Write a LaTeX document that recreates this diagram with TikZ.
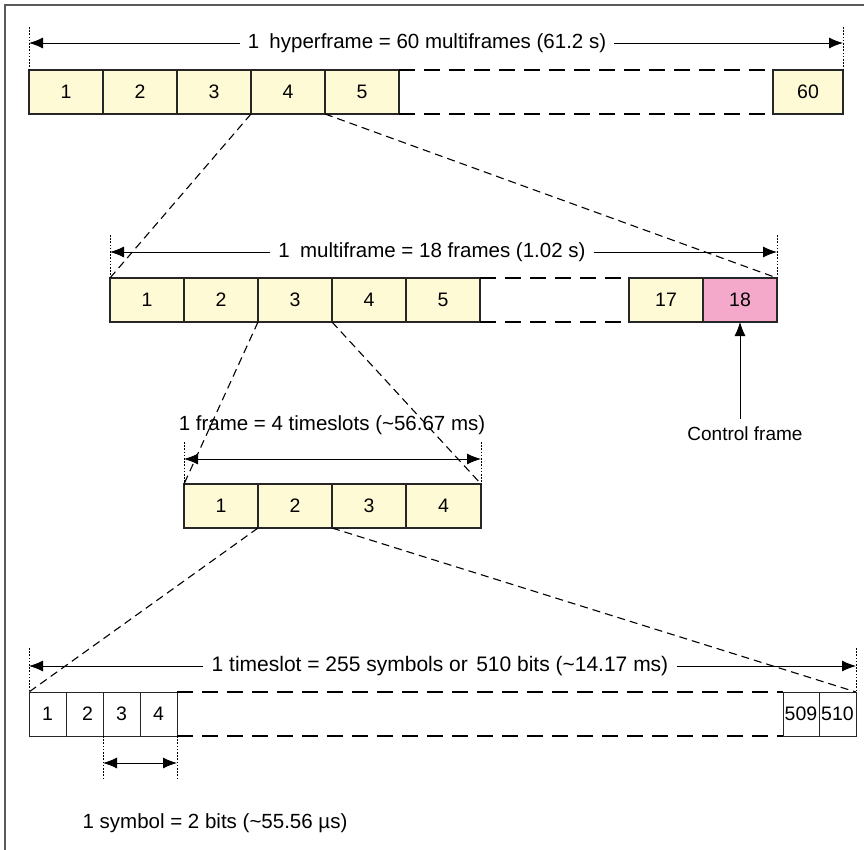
\documentclass[tikz,border=0pt]{standalone}
\usepackage{fontspec}
\setmainfont{Liberation Sans}
\usetikzlibrary{arrows.meta}
\definecolor{cream}{RGB}{255,250,214}
\definecolor{rosy}{RGB}{244,168,202}
\definecolor{framegray}{RGB}{90,90,90}
\tikzset{
  slot/.style={draw=black!85, line width=1.1pt, fill=cream, minimum height=44pt,
    minimum width=74pt, inner sep=0pt, outer sep=0pt, anchor=north west,
    font=\fontsize{19.5}{19.5}\selectfont},
  bit/.style={draw=black!85, line width=1pt, fill=white, minimum height=44pt,
    minimum width=37pt, inner sep=0pt, outer sep=0pt, anchor=north west,
    font=\fontsize{19.5}{19.5}\selectfont},
  lab/.style={font=\fontsize{20.5}{20.5}\selectfont, inner sep=8pt},
  dim/.style={line width=0.9pt, -{Latex[length=14pt,width=11pt]}},
  dimboth/.style={line width=0.9pt, {Latex[length=14pt,width=11pt]}-{Latex[length=14pt,width=11pt]}},
  ticky/.style={line width=0.7pt, dash pattern=on 1.6pt off 1.6pt},
  gapdash/.style={line width=1.1pt, dash pattern=on 16pt off 9pt},
  zoomdash/.style={line width=1.1pt, dash pattern=on 8pt off 5pt},
}
\begin{document}
\begin{tikzpicture}[x=1pt,y=-1pt]
\useasboundingbox (0,0) rectangle (864,850);
% outer frame (top and left edges)
\draw[framegray, line width=1.5pt] (5,850) -- (5,5) -- (864,5);

% ---------- Row 1: hyperframe ----------
\node[slot] (h1) at (29,70) {1};
\node[slot] (h2) at (103,70) {2};
\node[slot] (h3) at (177,70) {3};
\node[slot] (h4) at (251,70) {4};
\node[slot] (h5) at (325,70) {5};
\node[slot, minimum width=70pt] (h60) at (773,70) {60};
\draw[gapdash] (h5.north east) -- (h60.north west);
\draw[gapdash] (h5.south east) -- (h60.south west);
\coordinate (hL) at (29,27);
\coordinate (hR) at (843,27);
\coordinate (hLa) at (29,43);
\coordinate (hRa) at (843,43);
\draw[ticky] (hL) -- (h1.north west);
\draw[ticky] (hR) -- (h60.north east);
\node[lab] (ht) at (427,43) {1\hspace{0.5em}hyperframe = 60 multiframes (61.2 s)};
\draw[dim] (ht.west) -- (hLa);
\draw[dim] (ht.east) -- (hRa);

% ---------- Row 2: multiframe ----------
\node[slot] (m1) at (110,278) {1};
\node[slot] (m2) at (184,278) {2};
\node[slot] (m3) at (258,278) {3};
\node[slot] (m4) at (332,278) {4};
\node[slot] (m5) at (406,278) {5};
\node[slot] (m17) at (629,278) {17};
\node[slot, fill=rosy] (m18) at (703,278) {18};
\draw[gapdash] (m5.north east) -- (m17.north west);
\draw[gapdash] (m5.south east) -- (m17.south west);
\coordinate (mL) at (110,235);
\coordinate (mR) at (777,235);
\coordinate (mLa) at (110,252);
\coordinate (mRa) at (777,252);
\draw[ticky] (mL) -- (m1.north west);
\draw[ticky] (mR) -- (m18.north east);
\node[lab] (mt) at (432,252) {1\hspace{0.5em}multiframe = 18 frames (1.02 s)};
\draw[dim] (mt.west) -- (mLa);
\draw[dim] (mt.east) -- (mRa);

% control frame
\node[lab, font=\fontsize{19}{19}\selectfont] (cf) at (745,434) {Control frame};
\draw[dim] (cf.north -| m18.south) -- (m18.south);

% ---------- Row 3: frame ----------
\node[slot] (f1) at (184,484) {1};
\node[slot] (f2) at (258,484) {2};
\node[slot] (f3) at (332,484) {3};
\node[slot, minimum width=75pt] (f4) at (406,484) {4};
\coordinate (fL) at (184,442);
\coordinate (fR) at (481,442);
\coordinate (fLa) at (184,459);
\coordinate (fRa) at (481,459);
\draw[ticky] (fL) -- (f1.north west);
\draw[ticky] (fR) -- (f4.north east);
\draw[dimboth] (fLa) -- (fRa);
\node[lab] (ft) at (332,425) {1 frame = 4 timeslots (\textasciitilde56.67 ms)};

% ---------- Row 4: timeslot ----------
\node[bit] (b1) at (29,692) {1};
\node[bit] (b2) at (66,692) {\hspace{6pt}2};
\node[bit] (b3) at (103,692) {3\hspace{4pt}};
\node[bit, minimum width=37pt] (b4) at (140,692) {4};
\node[bit, minimum width=36pt] (b509) at (783,692) {509};
\node[bit] (b510) at (819,692) {510};
\draw[gapdash] (b4.north east) -- (b509.north west);
\draw[gapdash] (b4.south east) -- (b509.south west);
\coordinate (tL) at (29,648);
\coordinate (tR) at (856,648);
\coordinate (tLa) at (29,666);
\coordinate (tRa) at (856,666);
\draw[ticky] (tL) -- (b1.north west);
\draw[ticky] (tR) -- (b510.north east);
\node[lab, font=\fontsize{21}{21}\selectfont] (tt) at (440,666) {1 timeslot = 255 symbols or\hspace{0.4em}510 bits (\textasciitilde14.17 ms)};
\draw[dim] (tt.west) -- (tLa);
\draw[dim] (tt.east) -- (tRa);

% symbol
\coordinate (sL) at (103,780);
\coordinate (sR) at (177,780);
\coordinate (sLa) at (103,763);
\coordinate (sRa) at (177,763);
\draw[ticky] (b3.south west) -- (sL);
\draw[ticky] (b4.south east) -- (sR);
\draw[dimboth] (sLa) -- (sRa);
\node[lab] (st) at (215,823) {1 symbol = 2 bits (\textasciitilde55.56 µs)};

% ---------- zoom lines ----------
\draw[zoomdash] (h4.south west) -- (m1.north west);
\draw[zoomdash] (h5.south west) -- (m18.north east);
\draw[zoomdash] (m3.south west) -- (f1.north west);
\draw[zoomdash] (m4.south west) -- (f4.north east);
\draw[zoomdash] (f2.south west) -- (b1.north west);
\draw[zoomdash] (f3.south west) -- (b510.north east);
\end{tikzpicture}
\end{document}
